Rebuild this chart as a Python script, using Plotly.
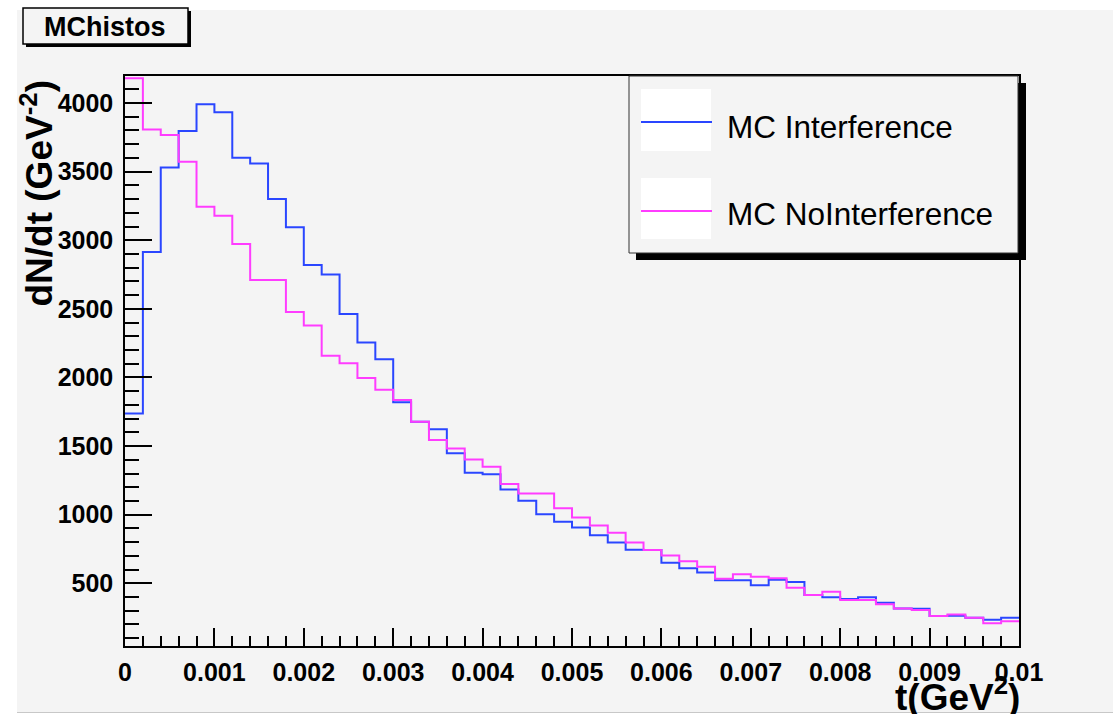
import numpy as np
import plotly.graph_objects as go

# ---------------- data (50 bins, 0 .. 0.01 GeV^2) ----------------
t_min = 0.0
t_max = 0.01
n_bins = 50

mc_interference = [
    1738, 2914, 3531, 3796, 3991, 3932, 3601, 3560, 3300, 3094,
    2819, 2751, 2462, 2254, 2133, 1819, 1677, 1622, 1447, 1305,
    1294, 1184, 1101, 1004, 948, 907, 851, 798, 744, 742,
    649, 609, 579, 523, 523, 485, 526, 509, 414, 399,
    385, 399, 358, 317, 314, 261, 263, 249, 234, 249,
]
mc_nointerference = [
    4180, 3808, 3767, 3572, 3244, 3179, 2972, 2710, 2710, 2477,
    2378, 2159, 2104, 1996, 1911, 1835, 1677, 1544, 1483, 1403,
    1349, 1223, 1155, 1155, 1046, 980, 921, 868, 798, 742,
    703, 660, 620, 533, 565, 548, 536, 467, 414, 438,
    378, 378, 348, 317, 305, 261, 273, 249, 208, 224,
]

y_tick_vals = [500, 1000, 1500, 2000, 2500, 3000, 3500, 4000]
y_tick_text = ["500", "1000", "1500", "2000", "2500", "3000", "3500", "4000"]
x_tick_vals = [0, 0.001, 0.002, 0.003, 0.004, 0.005, 0.006, 0.007, 0.008, 0.009, 0.01]
x_tick_text = ["0", "0.001", "0.002", "0.003", "0.004", "0.005", "0.006", "0.007", "0.008", "0.009", "0.01"]

series_names = ["MC Interference", "MC NoInterference"]
series_colors = ["#2a46ff", "#ff3cff"]

# ---------------- layout geometry ----------------
W, H = 1113, 714
L, R, T, B = 125, 1019, 76, 646
BG = "#f4f4f4"


def px(x):
    return (x - L) / (R - L)


def py(y):
    return (B - y) / (B - T)


edges = np.linspace(t_min, t_max, n_bins + 1)

fig = go.Figure()
for name, vals, col in zip(series_names, [mc_interference, mc_nointerference], series_colors):
    yv = list(vals) + [vals[-1]]
    fig.add_trace(go.Scatter(
        x=edges, y=yv, mode="lines", name=name,
        line=dict(color=col, width=2, shape="hv"),
        showlegend=False, hoverinfo="skip",
    ))

shapes = []
# gray canvas
shapes.append(dict(type="rect", xref="paper", yref="paper",
                   x0=px(17), x1=px(W + 5), y0=py(712), y1=py(10),
                   fillcolor=BG, line=dict(width=0), layer="below"))
shapes.append(dict(type="line", xref="paper", yref="paper",
                   x0=px(17), x1=px(W), y0=py(712.5), y1=py(712.5),
                   line=dict(color="#c8c8c8", width=1), layer="below"))
# title box with shadow
shapes.append(dict(type="rect", xref="paper", yref="paper",
                   x0=px(26), x1=px(191), y0=py(47), y1=py(11),
                   fillcolor="black", line=dict(width=0)))
shapes.append(dict(type="rect", xref="paper", yref="paper",
                   x0=px(23), x1=px(188), y0=py(44), y1=py(8),
                   fillcolor=BG, line=dict(color="black", width=1.5)))
# legend box with shadow
shapes.append(dict(type="rect", xref="paper", yref="paper",
                   x0=px(636), x1=px(1026), y0=py(260), y1=py(83),
                   fillcolor="black", line=dict(width=0)))
shapes.append(dict(type="rect", xref="paper", yref="paper",
                   x0=px(629), x1=px(1018), y0=py(253), y1=py(76),
                   fillcolor=BG, line=dict(color="#333333", width=1)))
legend_rows = [(89, 151, 122, 127), (178, 239, 211, 214)]
annotations = []
for (y0, y1, yl, yt), name, col in zip(legend_rows, series_names, series_colors):
    shapes.append(dict(type="rect", xref="paper", yref="paper",
                       x0=px(641), x1=px(711), y0=py(y1), y1=py(y0),
                       fillcolor="white", line=dict(width=0)))
    shapes.append(dict(type="line", xref="paper", yref="paper",
                       x0=px(641), x1=px(712), y0=py(yl), y1=py(yl),
                       line=dict(color=col, width=2)))
    annotations.append(dict(xref="paper", yref="paper", x=px(725), y=py(yt),
                            xanchor="left", yanchor="middle", showarrow=False,
                            text=name, font=dict(family="Liberation Sans", size=31.5, color="black")))

annotations.append(dict(xref="paper", yref="paper", x=px(105), y=py(27),
                        xanchor="center", yanchor="middle", showarrow=False,
                        text="<b>MChistos</b>",
                        font=dict(family="Liberation Sans", size=27, color="black")))
annotations.append(dict(xref="paper", yref="paper", x=px(37), y=py(78),
                        xanchor="center", yanchor="top", showarrow=False, textangle=-90,
                        text="<b>dN/dt (GeV<sup>-2</sup>)</b>",
                        font=dict(family="Liberation Sans", size=37, color="black")))
annotations.append(dict(xref="paper", yref="paper", x=px(1022), y=py(694),
                        xanchor="right", yanchor="middle", showarrow=False,
                        text="<b>t(GeV<sup>2</sup>)</b>",
                        font=dict(family="Liberation Sans", size=37, color="black")))

fig.update_layout(
    width=W, height=H,
    margin=dict(l=L, r=W - R, t=T, b=H - B, pad=0),
    paper_bgcolor="white", plot_bgcolor=BG,
    shapes=shapes, annotations=annotations,
    showlegend=False,
)
fig.update_xaxes(
    range=[t_min, t_max], showgrid=False, zeroline=False,
    showline=True, linecolor="black", linewidth=1.5, mirror=True,
    tickmode="array", tickvals=x_tick_vals, ticktext=x_tick_text,
    ticks="inside", ticklen=18, tickwidth=1.5, tickcolor="black",
    minor=dict(dtick=0.0002, tick0=0, ticks="inside", ticklen=10, tickwidth=1.5, tickcolor="black"),
    tickfont=dict(family="Liberation Sans", size=25, color="black", weight="bold"),
    ticklabelstandoff=3,
)
fig.update_yaxes(
    range=[43, 4197], showgrid=False, zeroline=False,
    showline=True, linecolor="black", linewidth=1.5, mirror=True,
    tickmode="array", tickvals=y_tick_vals, ticktext=y_tick_text,
    ticks="inside", ticklen=27, tickwidth=1.5, tickcolor="black",
    minor=dict(dtick=100, tick0=0, ticks="inside", ticklen=14, tickwidth=1.5, tickcolor="black"),
    tickfont=dict(family="Liberation Sans", size=25, color="black", weight="bold"),
    ticklabelstandoff=5,
)

fig.write_html("out.html")
